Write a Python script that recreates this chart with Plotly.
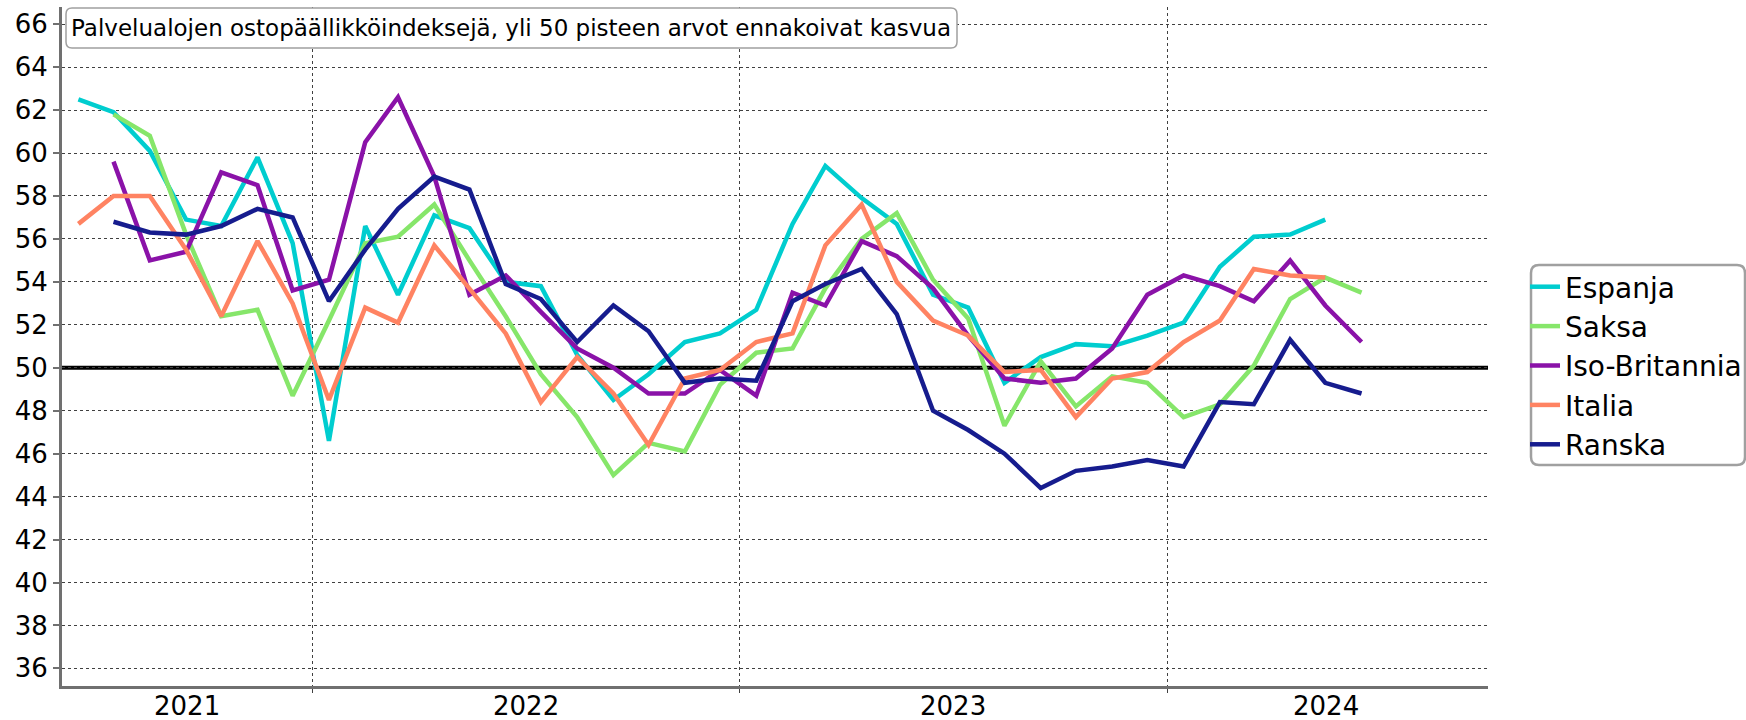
import plotly.graph_objects as go
import pandas as pd

# ---- data (monthly services PMI) ----
espanja_start = "2021-06"
espanja = [62.5, 61.9, 60.1, 56.9, 56.6, 59.8, 55.8,
           46.6, 56.6, 53.4, 57.1, 56.5, 54.0, 53.8, 50.6, 48.5, 49.7, 51.2, 51.6,
           52.7, 56.7, 59.4, 57.9, 56.7, 53.4, 52.8, 49.3, 50.5, 51.1, 51.0, 51.5,
           52.1, 54.7, 56.1, 56.2, 56.9]

saksa_start = "2021-07"
saksa = [61.8, 60.8, 56.2, 52.4, 52.7, 48.7,
         52.2, 55.8, 56.1, 57.6, 55.0, 52.4, 49.7, 47.7, 45.0, 46.5, 46.1, 49.2,
         50.7, 50.9, 53.7, 56.0, 57.2, 54.1, 52.3, 47.3, 50.3, 48.2, 49.6, 49.3,
         47.7, 48.3, 50.1, 53.2, 54.2, 53.5]

iso_britannia_start = "2021-07"
iso_britannia = [59.6, 55.0, 55.4, 59.1, 58.5, 53.6,
                 54.1, 60.5, 62.6, 58.9, 53.4, 54.3, 52.6, 50.9, 50.0, 48.8, 48.8, 49.9,
                 48.7, 53.5, 52.9, 55.9, 55.2, 53.7, 51.5, 49.5, 49.3, 49.5, 50.9, 53.4,
                 54.3, 53.8, 53.1, 55.0, 52.9, 51.2]

italia_start = "2021-06"
italia = [56.7, 58.0, 58.0, 55.5, 52.4, 55.9, 53.0,
          48.5, 52.8, 52.1, 55.7, 53.7, 51.6, 48.4, 50.5, 48.8, 46.4, 49.5, 49.9,
          51.2, 51.6, 55.7, 57.6, 54.0, 52.2, 51.5, 49.8, 49.9, 47.7, 49.5, 49.8,
          51.2, 52.2, 54.6, 54.3, 54.2]

ranska_start = "2021-07"
ranska = [56.8, 56.3, 56.2, 56.6, 57.4, 57.0,
          53.1, 55.5, 57.4, 58.9, 58.3, 53.9, 53.2, 51.2, 52.9, 51.7, 49.3, 49.5,
          49.4, 53.1, 53.9, 54.6, 52.5, 48.0, 47.1, 46.0, 44.4, 45.2, 45.4, 45.7,
          45.4, 48.4, 48.3, 51.3, 49.3, 48.8]

series_names = ["Espanja", "Saksa", "Iso-Britannia", "Italia", "Ranska"]
series_values = [espanja, saksa, iso_britannia, italia, ranska]
series_starts = [espanja_start, saksa_start, iso_britannia_start, italia_start, ranska_start]
series_colors = ["#00CDCF", "#86E66A", "#8A12A8", "#FF8362", "#161C8E"]

year_labels = ["2021", "2022", "2023", "2024"]
year_label_pos = ["2021-09-16", "2022-07-02", "2023-07-02", "2024-05-16"]
year_bounds = ["2022-01-01", "2023-01-01", "2024-01-01"]
y_ticks = list(range(36, 67, 2))
threshold = 50

title_text = "Palvelualojen ostopäällikköindeksejä, yli 50 pisteen arvot ennakoivat kasvua"

# ---- layout geometry (pixels) ----
W, H = 1746, 720
ML, MR, MT, MB = 62, 258, 7, 34
PW, PH = W - ML - MR, H - MT - MB
FONT = "DejaVu Sans"


def px_x(x):
    return (x - ML) / PW


def px_y(y):
    return (H - MB - y) / PH


def rounded_rect(x0, y0, x1, y1, r):
    X = lambda v: px_x(v)
    Y = lambda v: px_y(v)
    return (f"M {X(x0 + r)} {Y(y0)} L {X(x1 - r)} {Y(y0)} "
            f"Q {X(x1)} {Y(y0)} {X(x1)} {Y(y0 + r)} L {X(x1)} {Y(y1 - r)} "
            f"Q {X(x1)} {Y(y1)} {X(x1 - r)} {Y(y1)} L {X(x0 + r)} {Y(y1)} "
            f"Q {X(x0)} {Y(y1)} {X(x0)} {Y(y1 - r)} L {X(x0)} {Y(y0 + r)} "
            f"Q {X(x0)} {Y(y0)} {X(x0 + r)} {Y(y0)} Z")


fig = go.Figure()
for name, vals, start, col in zip(series_names, series_values, series_starts, series_colors):
    dates = pd.date_range(start=start + "-01", periods=len(vals), freq="MS") + pd.Timedelta(days=14)
    fig.add_trace(go.Scatter(x=dates, y=vals, mode="lines", name=name, legendgroup=name,
                             line=dict(color=col, width=4.5)))

fig.add_shape(type="line", xref="paper", yref="y", x0=0, x1=1, y0=threshold, y1=threshold,
              line=dict(color="black", width=4), layer="below")

# title box
fig.add_shape(type="path", xref="paper", yref="paper",
              path=rounded_rect(66, 8, 957, 48, 6),
              line=dict(color="#A0A0A0", width=1.5), fillcolor="white", layer="above")
fig.add_annotation(xref="paper", yref="paper", x=px_x(69), y=px_y(28), xanchor="left",
                   yanchor="middle", text=title_text, showarrow=False,
                   font=dict(family=FONT, size=23, color="black"))

# legend box
fig.add_shape(type="path", xref="paper", yref="paper",
              path=rounded_rect(1531, 265, 1745, 465, 8),
              line=dict(color="#A0A0A0", width=2.5), fillcolor="rgba(0,0,0,0)", layer="above")

for lab, pos in zip(year_labels, year_label_pos):
    fig.add_annotation(xref="x", yref="paper", x=pos, y=px_y(706), text=lab,
                       showarrow=False, xanchor="center", yanchor="middle",
                       font=dict(family=FONT, size=26, color="black"))

fig.update_layout(
    width=W, height=H,
    margin=dict(l=ML, r=MR, t=MT, b=MB, autoexpand=False),
    paper_bgcolor="white", plot_bgcolor="white",
    font=dict(family=FONT, size=26, color="black"),
    showlegend=True,
    legend=dict(x=px_x(1525), y=px_y(262), xanchor="left", yanchor="top",
                bgcolor="rgba(0,0,0,0)", borderwidth=0,
                font=dict(family=FONT, size=28, color="black"),
                tracegroupgap=0),
    xaxis=dict(type="date", range=["2021-06-01", "2024-10-01"],
               tickvals=year_bounds, showticklabels=False,
               showgrid=True, gridcolor="#404040", griddash="dot", gridwidth=1,
               ticks="outside", ticklen=4, tickcolor="#404040", tickwidth=1,
               showline=True, linecolor="#707070", linewidth=3, zeroline=False),
    yaxis=dict(range=[35.18, 66.8], tickvals=y_ticks,
               showgrid=True, gridcolor="#404040", griddash="dot", gridwidth=1,
               ticks="outside", ticklen=6, tickcolor="#707070", tickwidth=1.5,
               showline=True, linecolor="#707070", linewidth=3, zeroline=False,
               tickfont=dict(family=FONT, size=26, color="black")),
)

fig.write_html("out.html", config={"displayModeBar": False},
               post_script="document.body.style.margin='0';document.body.style.padding='0';")
